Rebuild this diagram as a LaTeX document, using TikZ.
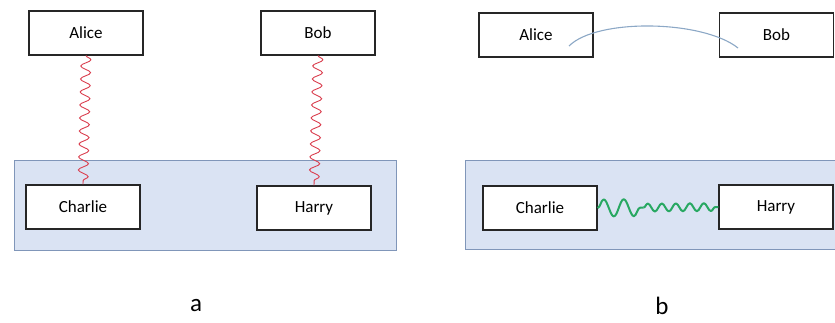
\documentclass[tikz,border=0pt]{standalone}
\usepackage{fontspec}
\setmainfont{Carlito}
\usetikzlibrary{decorations.pathmorphing,calc}
\definecolor{panelblue}{RGB}{218,227,243}
\definecolor{panelline}{RGB}{128,150,185}
\definecolor{wavered}{RGB}{218,62,78}
\definecolor{wavegreen}{RGB}{40,168,98}
\definecolor{arcblue}{RGB}{140,168,198}

\begin{document}
\begin{tikzpicture}[x=1pt,y=-1pt,
    party/.style={draw=black!85, line width=1.1pt, fill=white,
      minimum width=114pt, minimum height=44pt, inner sep=0pt,
      font=\fontsize{17}{20}\selectfont},
    group/.style={draw=panelline, line width=0.9pt, fill=panelblue},
    caption/.style={font=\fontsize{25}{28}\selectfont},
    redwave/.style={draw=wavered, line width=0.9pt, decorate,
      decoration={snake, amplitude=5pt, segment length=13pt}},
    greenwave/.style={draw=wavegreen, line width=2pt, line join=round, decorate},
    linkarc/.style={draw=arcblue, line width=1.1pt}]
  \clip (0,0) rectangle (835,322);

  % groups
  \path[group] (14,160) rectangle (396,250);
  \path[group] (465,160) rectangle (845,249);

  % parties, panel a
  \node[party] (alicea) at (86,33) {Alice};
  \node[party] (boba) at (318,33) {Bob};
  \node[party] (charliea) at (83,207) {Charlie};
  \node[party] (harrya) at (314,208) {Harry};

  % parties, panel b
  \node[party] (aliceb) at (536,35) {Alice};
  \node[party] (bobb) at (776.5,35) {Bob};
  \node[party] (charlieb) at (540,208) {Charlie};
  \node[party] (harryb) at (776,207) {Harry};

  % links, panel a
  \draw[redwave] (alicea.south) -- (charliea.north);
  \draw[redwave] (boba.south) -- (harrya.north);

  % links, panel b
  \coordinate (arcstart) at ($(aliceb.center)+(33,11)$);
  \coordinate (arcend) at ($(bobb.center)+(-38.5,13)$);
  \draw[linkarc] (arcstart) .. controls +(28,-28) and +(-35,-28) .. (arcend);
  \coordinate (gmid) at ($(charlieb.east)!0.38!(harryb.west)$);
  \draw[greenwave, decoration={snake, amplitude=8.5pt, segment length=20pt}]
    (charlieb.east) -- (gmid);
  \draw[greenwave, decoration={snake, amplitude=4pt, segment length=14pt}]
    (gmid) -- (harryb.west);

  % labels
  \node[caption] (labela) at (196,306) {a};
  \node[caption] (labelb) at (662,306) {b};
\end{tikzpicture}
\end{document}
